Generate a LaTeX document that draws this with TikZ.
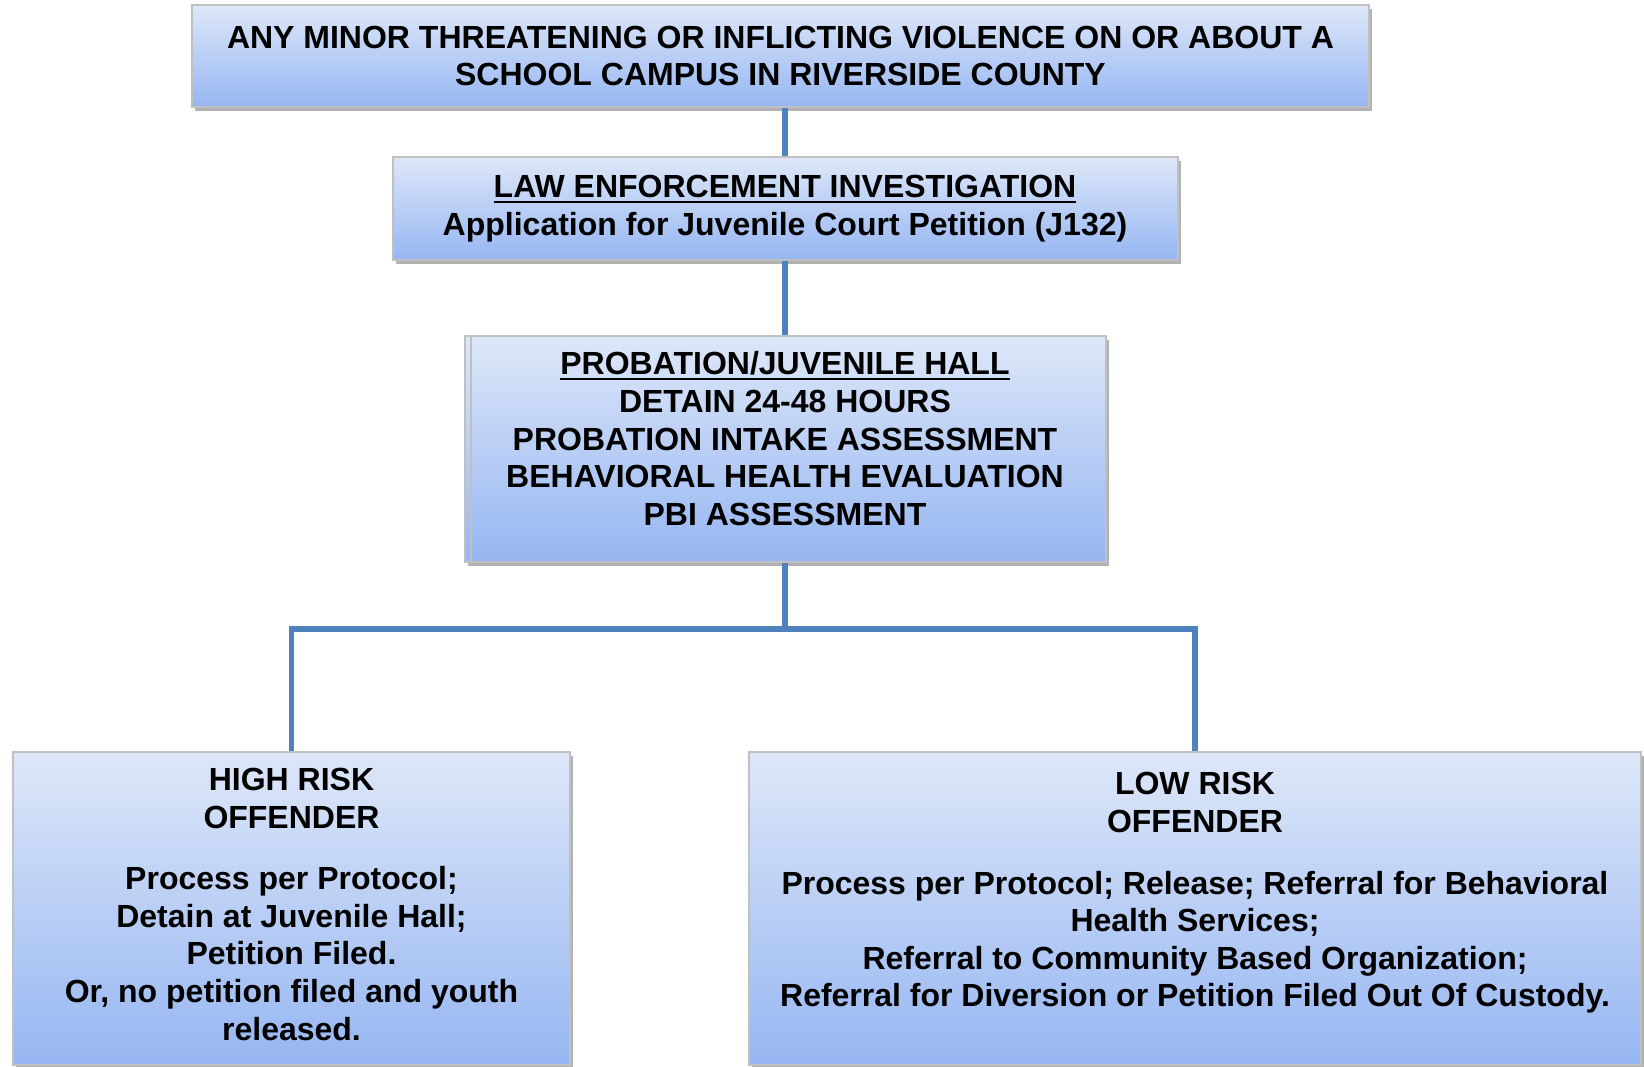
\documentclass[tikz,border=0pt]{standalone}
\usepackage{fontspec}
\setmainfont{Liberation Sans}
\usetikzlibrary{shadows}
\definecolor{boxtop}{RGB}{221,231,248}
\definecolor{boxbottom}{RGB}{150,182,242}
\definecolor{boxline}{RGB}{192,192,192}
\definecolor{linkblue}{RGB}{79,129,189}
\newcommand{\ulined}[1]{\setbox0\hbox{#1}\rlap{\rule[-2.6pt]{\wd0}{1.1pt}}\box0}
\tikzset{
  box/.style={draw=boxline, line width=1pt, top color=boxtop, bottom color=boxbottom,
    align=center, inner sep=0pt, font=\bfseries\fontsize{16}{18.8}\selectfont,
    drop shadow={shadow xshift=1.5pt, shadow yshift=-2pt, opacity=0.3, fill=black}},
  link/.style={draw=linkblue, line width=2.6pt, line join=miter}
}

\begin{document}
\begin{tikzpicture}[x=0.5pt, y=-0.5pt]
\useasboundingbox (0,0) rectangle (1644,1066);
% nodes
\node[box, minimum width=588.5pt, minimum height=51pt] (threat) at (780.5,56)
  {ANY MINOR THREATENING OR INFLICTING VIOLENCE ON OR ABOUT A\\ SCHOOL CAMPUS IN RIVERSIDE COUNTY};
\node[box, minimum width=392.5pt, minimum height=51.5pt] (lawenf) at (785,208.5)
  {\ulined{LAW ENFORCEMENT INVESTIGATION}\\ Application for Juvenile Court Petition (J132)};
\node[box, minimum width=320.5pt, minimum height=113pt] (prob) at (785,449)
  {\ulined{PROBATION/JUVENILE HALL}\\ DETAIN 24-48 HOURS\\ PROBATION INTAKE ASSESSMENT\\
   BEHAVIORAL HEALTH EVALUATION\\ PBI ASSESSMENT\\[-8.3pt]\mbox{}};
\draw[boxline, line width=1pt] ([xshift=3.5pt]prob.north west) -- ([xshift=3.5pt]prob.south west); % inner rule
\node[box, minimum width=278.5pt, minimum height=156.5pt] (high) at (291.5,908.5)
  {HIGH RISK\\ OFFENDER\\[12pt] Process per Protocol;\\ Detain at Juvenile Hall;\\ Petition Filed.\\
   Or, no petition filed and youth\\ released.\\[-14.5pt]\mbox{}};
\node[box, minimum width=446pt, minimum height=156.5pt] (low) at (1195,908.5)
  {LOW RISK\\ OFFENDER\\[12pt] Process per Protocol; Release; Referral for Behavioral\\ Health Services;\\
   Referral to Community Based Organization;\\ Referral for Diversion or Petition Filed Out Of Custody.\\\mbox{}};
\coordinate (split) at (prob.south |- 0,629);
% edges
\draw[link] (lawenf.north |- threat.south) -- (lawenf.north);
\draw[link] (lawenf.south) -- (prob.north);
\draw[link] (prob.south) -- (split);
\draw[link] (high.north) |- (split) -| (low.north);
\end{tikzpicture}
\end{document}
